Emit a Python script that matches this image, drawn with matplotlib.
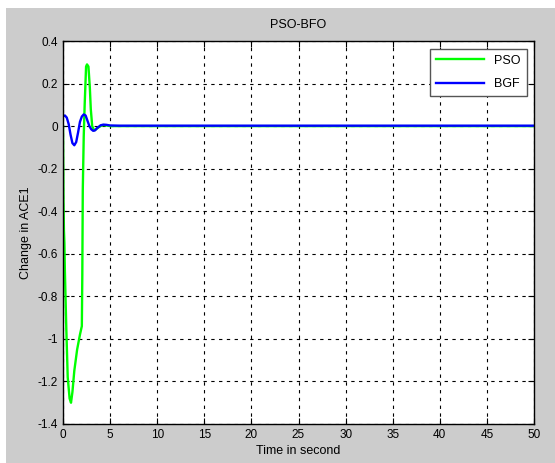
from matplotlib import pyplot as plt
from matplotlib.patches import Rectangle
import numpy as np

# Values
pso_t = [0.0, 0.05, 0.1, 0.15, 0.2, 0.35, 0.5, 0.7, 0.85, 1.0, 1.2, 1.5, 1.8, 2.0,
         2.05, 2.1, 2.2, 2.3, 2.45, 2.55, 2.7, 2.85, 2.95, 3.1, 3.3, 3.5,
         3.8, 4.2, 4.6, 5.0, 6.0, 50.0]
pso_v = [0.0, -0.35, -0.49, -0.55, -0.68, -0.95, -1.18, -1.28, -1.30, -1.25,
         -1.15, -1.05, -0.98, -0.94, -0.70, -0.30, -0.05, 0.10, 0.28, 0.29,
         0.28, 0.18, 0.08, 0.0, -0.02, -0.015, -0.005, 0.005, 0.003, 0.0, 0.0, 0.0]

bgf_t = [0.0, 0.2, 0.4, 0.6, 0.8, 1.0, 1.2, 1.4, 1.6, 1.8, 2.0, 2.2, 2.4, 2.6,
         2.8, 3.0, 3.2, 3.4, 3.6, 3.8, 4.0, 4.3, 4.6, 5.0, 6.0, 50.0]
bgf_v = [0.045, 0.05, 0.04, 0.01, -0.04, -0.08, -0.09, -0.075, -0.03, 0.02,
         0.045, 0.055, 0.05, 0.025, 0.0, -0.015, -0.022, -0.02, -0.01, -0.003,
         0.004, 0.007, 0.006, 0.003, 0.002, 0.002]


def main():
    fig = plt.figure(figsize=(5.55, 4.63), dpi=100, facecolor='white')
    fig.patches.append(Rectangle((6 / 555, 0), 1, (463 - 8) / 463,
                                 transform=fig.transFigure, facecolor='#cccccc',
                                 edgecolor='none', zorder=-10))
    ax = fig.add_axes([63 / 555, 39 / 463, 471 / 555, 383 / 463])
    ax.set_facecolor('white')

    ax.plot(pso_t, pso_v, color='#00ff00', lw=1.7, label='PSO')
    ax.plot(bgf_t, bgf_v, color='#0000ff', lw=1.7, label='BGF')

    ax.set_xlim(0, 50)
    ax.set_ylim(-1.4, 0.4)
    ax.set_xticks(np.arange(0, 51, 5))
    ax.set_yticks(np.arange(-1.4, 0.41, 0.2))
    ax.set_yticklabels(['-1.4', '-1.2', '-1', '-0.8', '-0.6', '-0.4', '-0.2',
                        '0', '0.2', '0.4'])
    ax.grid(True, color='black', linestyle=(0, (3, 4)), linewidth=0.8)
    ax.tick_params(direction='in', labelsize=8.5, length=4, top=True, right=True)
    for s in ax.spines.values():
        s.set_linewidth(1)

    ax.set_title('PSO-BFO', fontsize=9, pad=9)
    ax.set_xlabel('Time in second', fontsize=9, labelpad=3)
    ax.set_ylabel('Change in ACE1', fontsize=9, labelpad=4)

    ax.legend(loc='upper right', fontsize=9, fancybox=False, edgecolor='#555555',
              framealpha=1, handlelength=3.8, borderaxespad=0.6,
              labelspacing=0.9, borderpad=0.5)

    fig.savefig('out.png', dpi=100, facecolor=fig.get_facecolor())


if __name__ == '__main__':
    plt.rcParams['font.family'] = ['Liberation Sans', 'DejaVu Sans']
    main()
